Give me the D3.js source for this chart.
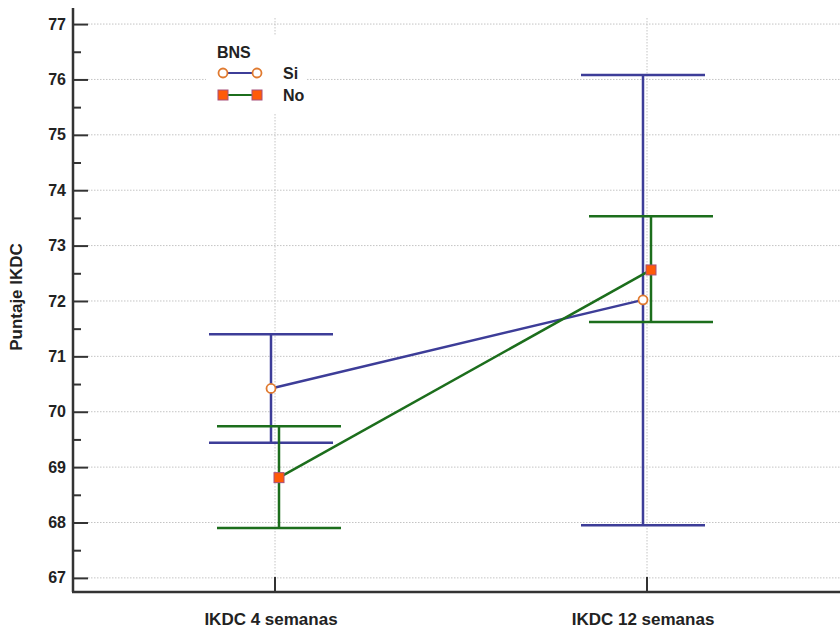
<!DOCTYPE html>
<html>
<head>
<meta charset="utf-8">
<script src="https://cdn.jsdelivr.net/npm/d3@7"></script>
<style>
  body { margin: 0; background: #fff; }
  text { font-family: "Liberation Sans", Arial, sans-serif; font-weight: bold; }
</style>
</head>
<body>
<div id="chart"></div>
<script>
var categories = ["IKDC 4 semanas", "IKDC 12 semanas"];
var siMean = [70.42, 72.02];
var siLow = [69.44, 67.95];
var siHigh = [71.40, 76.08];
var noMean = [68.81, 72.56];
var noLow = [67.90, 71.62];
var noHigh = [69.74, 73.53];
var yTicks = [67, 68, 69, 70, 71, 72, 73, 74, 75, 76, 77];

var width = 840, height = 630;
var plotLeft = 73, plotBottom = 592, plotTop = 8;

var svg = d3.select("#chart")
  .append("svg")
    .attr("width", width)
    .attr("height", height);

var x = d3.scalePoint()
  .domain(categories)
  .range([275, 647]);

var y = d3.scaleLinear()
  .domain([66.745, 77.29])
  .range([plotBottom, plotTop]);

// grid
svg.append("g")
  .selectAll("line")
  .data(yTicks)
  .enter()
  .append("line")
    .attr("x1", plotLeft + 15)
    .attr("x2", width)
    .attr("y1", function(d) { return y(d); })
    .attr("y2", function(d) { return y(d); })
    .attr("stroke", "#c4c4c4")
    .attr("stroke-dasharray", "1.5,1.5");

svg.append("g")
  .selectAll("line")
  .data(categories)
  .enter()
  .append("line")
    .attr("x1", function(d) { return x(d); })
    .attr("x2", function(d) { return x(d); })
    .attr("y1", plotTop + 10)
    .attr("y2", plotBottom - 15)
    .attr("stroke", "#c4c4c4")
    .attr("stroke-dasharray", "1.5,1.5");

// y axis
var yAxis = svg.append("g")
  .attr("transform", "translate(" + plotLeft + ",0)");

yAxis.call(d3.axisRight(y).tickValues(d3.range(67, 77.01, 0.5)).tickSize(8).tickFormat(""))
  .select(".domain").remove();
yAxis.selectAll(".tick line")
  .attr("stroke", "#333").attr("stroke-width", 2)
  .attr("x2", function(d) { return d % 1 === 0 ? 15 : 8; });

yAxis.append("line")
  .attr("x1", 0).attr("x2", 0)
  .attr("y1", plotTop).attr("y2", plotBottom)
  .attr("stroke", "#333").attr("stroke-width", 2.5);

yAxis.selectAll(".ylab")
  .data(yTicks)
  .enter()
  .append("text")
    .attr("x", -7)
    .attr("y", function(d) { return y(d); })
    .attr("dy", "0.35em")
    .attr("text-anchor", "end")
    .attr("font-size", 16)
    .attr("fill", "#222")
    .text(function(d) { return d; });

// x axis
svg.append("line")
  .attr("x1", plotLeft - 1).attr("x2", width)
  .attr("y1", plotBottom).attr("y2", plotBottom)
  .attr("stroke", "#333").attr("stroke-width", 2.5);

svg.append("g")
  .selectAll("line")
  .data(categories)
  .enter()
  .append("line")
    .attr("x1", function(d) { return x(d); })
    .attr("x2", function(d) { return x(d); })
    .attr("y1", plotBottom)
    .attr("y2", plotBottom - 15)
    .attr("stroke", "#333").attr("stroke-width", 2);

svg.append("g")
  .selectAll("text")
  .data(categories)
  .enter()
  .append("text")
    .attr("x", function(d) { return x(d) - 4; })
    .attr("y", 625)
    .attr("text-anchor", "middle")
    .attr("font-size", 17)
    .attr("fill", "#222")
    .text(function(d) { return d; });

svg.append("text")
  .attr("transform", "translate(22,297) rotate(-90)")
  .attr("text-anchor", "middle")
  .attr("font-size", 17)
  .attr("fill", "#222")
  .text("Puntaje IKDC");

// series
var series = [
  { name: "Si", mean: siMean, low: siLow, high: siHigh, off: -4, color: "#3d3d98" },
  { name: "No", mean: noMean, low: noLow, high: noHigh, off: 4, color: "#1c6e1c" }
];

var cap = 62;

series.forEach(function(s) {
  var g = svg.append("g");
  var pts = categories.map(function(c, i) {
    return { cx: x(c) + s.off, m: s.mean[i], lo: s.low[i], hi: s.high[i] };
  });

  g.selectAll(".stem")
    .data(pts)
    .enter()
    .append("line")
      .attr("x1", function(d) { return d.cx; })
      .attr("x2", function(d) { return d.cx; })
      .attr("y1", function(d) { return y(d.lo); })
      .attr("y2", function(d) { return y(d.hi); })
      .attr("stroke", s.color).attr("stroke-width", 2.5);

  ["lo", "hi"].forEach(function(k) {
    g.selectAll(".cap-" + k)
      .data(pts)
      .enter()
      .append("line")
        .attr("class", "cap-" + k)
        .attr("x1", function(d) { return d.cx - cap; })
        .attr("x2", function(d) { return d.cx + cap; })
        .attr("y1", function(d) { return y(d[k]); })
        .attr("y2", function(d) { return y(d[k]); })
        .attr("stroke", s.color).attr("stroke-width", 2.5);
  });

  s.pts = pts;
  s.g = g;
});

series.forEach(function(s) {
  s.g.append("path")
    .datum(s.pts)
    .attr("fill", "none")
    .attr("stroke", s.color)
    .attr("stroke-width", 2.5)
    .attr("d", d3.line().x(function(d) { return d.cx; }).y(function(d) { return y(d.m); }));
});

function marker(g, name, cx, cy) {
  if (name === "Si") {
    g.append("circle")
      .attr("cx", cx).attr("cy", cy).attr("r", 4.5)
      .attr("fill", "#fff").attr("stroke", "#e07a30").attr("stroke-width", 1.8);
  } else {
    g.append("rect")
      .attr("x", cx - 5).attr("y", cy - 5).attr("width", 10).attr("height", 10)
      .attr("fill", "#ff5a08").attr("stroke", "#a8507a").attr("stroke-width", 1);
  }
}

series.forEach(function(s) {
  s.pts.forEach(function(d) { marker(s.g, s.name, d.cx, y(d.m)); });
});

// legend
var lg = svg.append("g");
lg.append("rect")
  .attr("x", 206).attr("y", 36).attr("width", 100).attr("height", 77)
  .attr("fill", "#fff");
lg.append("text")
  .attr("x", 217).attr("y", 58)
  .attr("font-size", 16).attr("fill", "#222")
  .text("BNS");
series.forEach(function(s, i) {
  var yy = 73 + i * 22;
  lg.append("line")
    .attr("x1", 223).attr("x2", 257)
    .attr("y1", yy).attr("y2", yy)
    .attr("stroke", s.color).attr("stroke-width", 2);
  marker(lg, s.name, 223, yy);
  marker(lg, s.name, 257, yy);
  lg.append("text")
    .attr("x", 283).attr("y", yy)
    .attr("dy", "0.35em")
    .attr("font-size", 16).attr("fill", "#222")
    .text(s.name);
});
</script>
</body>
</html>
